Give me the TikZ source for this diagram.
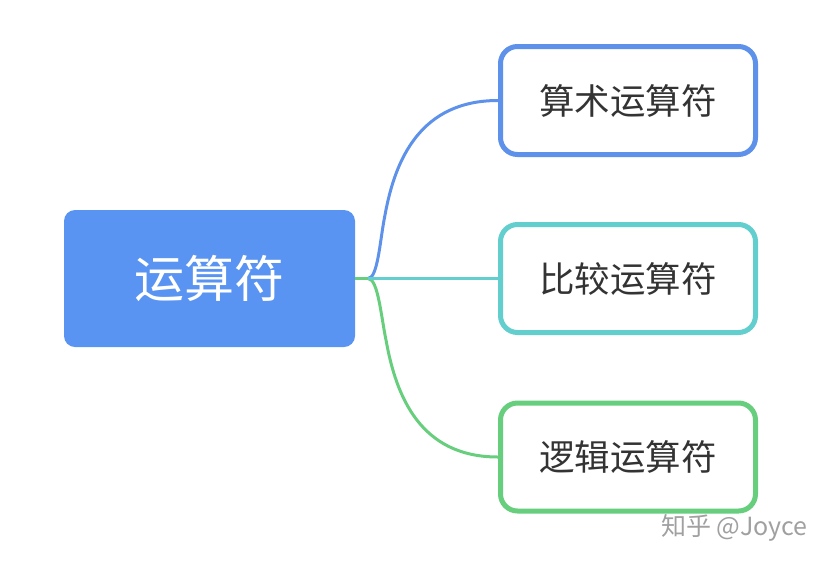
\documentclass[tikz,border=0pt]{standalone}
\usepackage{fontspec}
\newfontfamily\cjk{Noto Sans CJK SC}
\definecolor{rootblue}{RGB}{90,148,242}
\definecolor{cblue}{RGB}{94,145,234}
\definecolor{cteal}{RGB}{98,206,206}
\definecolor{cgreen}{RGB}{102,206,125}
\definecolor{ctext}{RGB}{51,51,51}
\definecolor{wmark}{RGB}{160,160,160}
\begin{document}
\begin{tikzpicture}[x=1pt,y=-1pt,
  rootbox/.style={fill=rootblue,rounded corners=11pt,minimum width=291pt,minimum height=137pt,inner sep=0pt,text=white,font=\cjk\fontsize{50}{56}\selectfont},
  childbox/.style={draw=#1,fill=white,line width=5pt,rounded corners=17pt,minimum width=255pt,minimum height=108pt,inner sep=0pt,text=ctext,font=\cjk\fontsize{35.5}{40}\selectfont},
  link/.style={draw=#1,line width=3pt}]
\useasboundingbox (0,0) rectangle (832,566);
\node[rootbox] (root) at (209.5,278.5) {运算符};
\node[childbox=cblue] (c1) at (628,100.5) {算术运算符};
\node[childbox=cteal] (c2) at (628,278.5) {比较运算符};
\node[childbox=cgreen] (c3) at (628,457) {逻辑运算符};
\coordinate (j) at (368,278.5);
\coordinate (b1) at (385,215);
\coordinate (g1) at (386,340);
\draw[link=cgreen] (j) .. controls (378,278.5) and (381,316) .. (g1) .. controls (396,396) and (420,457) .. (c3.west);
\draw[link=cblue] (j) .. controls (378,278.5) and (380,239) .. (b1) .. controls (395,160) and (420,100.5) .. (c1.west);
\draw[link=cteal] (j) -- (c2.west);
\draw[link=cgreen] (root.east) -- (j);
\node[text=wmark,font=\cjk\fontsize{25}{28}\selectfont,anchor=west,inner sep=0pt] (wm) at (661,528) {知乎 @Joyce};
\end{tikzpicture}
\end{document}
